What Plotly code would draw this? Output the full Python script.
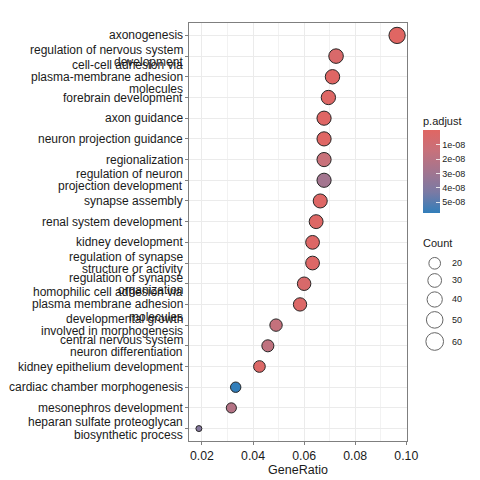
import numpy as np
import plotly.graph_objects as go

terms = [
    "axonogenesis",
    "regulation of nervous system<br>development",
    "cell-cell adhesion via<br>plasma-membrane adhesion<br>molecules",
    "forebrain development",
    "axon guidance",
    "neuron projection guidance",
    "regionalization",
    "regulation of neuron<br>projection development",
    "synapse assembly",
    "renal system development",
    "kidney development",
    "regulation of synapse<br>structure or activity",
    "regulation of synapse<br>organization",
    "homophilic cell adhesion via<br>plasma membrane adhesion<br>molecules",
    "developmental growth<br>involved in morphogenesis",
    "central nervous system<br>neuron differentiation",
    "kidney epithelium development",
    "cardiac chamber morphogenesis",
    "mesonephros development",
    "heparan sulfate proteoglycan<br>biosynthetic process",
]
gene_ratio = [0.0964, 0.0725, 0.0711, 0.0695, 0.0678, 0.0678, 0.0678, 0.0678,
              0.0663, 0.0647, 0.0633, 0.0633, 0.0600, 0.0584, 0.0490, 0.0458,
              0.0425, 0.0332, 0.0315, 0.0188]
counts = [61, 46, 45, 44, 43, 43, 43, 43, 42, 41, 40, 40, 38, 37, 31, 29,
          27, 21, 20, 12]
p_adjust = [7e-11, 4.0e-9, 5e-10, 1.0e-9, 6e-10, 6e-10, 1.4e-8, 2.9e-8,
            1.2e-9, 1.2e-9, 1.8e-9, 2.0e-9, 4.5e-9, 2.5e-9, 1.55e-8, 1.75e-8,
            2.2e-9, 5.76e-8, 2.2e-8, 3.9e-8]
cbar_ticks = [1e-8, 2e-8, 3e-8, 4e-8, 5e-8]
cbar_ticktext = ["1e-08", "2e-08", "3e-08", "4e-08", "5e-08"]
x_ticks = [0.02, 0.04, 0.06, 0.08, 0.10]
x_ticktext = ["0.02", "0.04", "0.06", "0.08", "0.10"]
legend_counts = [20, 30, 40, 50, 60]

FONT = "Liberation Sans, Arial, sans-serif"
TXT = "#1a1a1a"
cmin_c, cmax_c = min(counts), max(counts)


def diam(c, extra=0.0):
    s = 3 + 5 * np.sqrt(max(c - cmin_c, 0) / (cmax_c - cmin_c))
    return 0.8 + 2.06 * s + extra


colorscale = [[0, "#327eba"], [0.25, "#7a7aa4"], [0.5, "#a3758f"],
              [0.75, "#c7717b"], [1, "#e06663"]]

# page body has an 8px margin: work in screen pixels and shift
OFF = 8
W = H = 480 - OFF
PL, PR, PT, PB = 189, 407, 23, 441          # panel edges in screen px
ml, mt = PL - OFF, PT - OFF
mr = 5
mb = H - (PB - OFF)
ph = PB - PT
pw = W - ml - mr


def px_x(sx):
    return (sx - PL) / pw


def px_y(sy):
    return (PB - sy) / ph


fig = go.Figure()
fig.add_trace(go.Scatter(
    x=gene_ratio, y=terms, mode="markers",
    marker=dict(
        size=[diam(c) - 1 for c in counts],
        color=[-p for p in p_adjust],
        colorscale=colorscale,
        cmin=-max(p_adjust), cmax=-min(p_adjust),
        line=dict(color="#262626", width=1),
        opacity=1,
        colorbar=dict(
            x=px_x(423.3), xanchor="left", xpad=0,
            y=px_y(130.3), yanchor="top", ypad=0,
            thickness=17, lenmode="pixels", len=83.4,
            outlinewidth=0,
            tickvals=[-t for t in cbar_ticks], ticktext=cbar_ticktext,
            ticks="inside", ticklen=4, tickcolor="rgba(255,255,255,0.8)",
            tickfont=dict(size=9, family=FONT, color=TXT),
        ),
    ),
    showlegend=False, hoverinfo="skip",
))

# y-axis labels: one annotation per line for ggplot-like tight line spacing
LINE_H = 12.3
for term in terms:
    lines = term.split("<br>")
    n = len(lines)
    for k, ln in enumerate(lines):
        fig.add_annotation(
            x=0, y=term, xref="paper", yref="y", text=ln, showarrow=False,
            xanchor="right", yanchor="middle", xshift=-4.5,
            yshift=((n - 1) / 2 - k) * LINE_H,
            font=dict(size=12, family=FONT, color=TXT))

# size legend
leg_d = [diam(c, 1.5) for c in legend_counts]
leg_y = [263.3]
for i in range(1, len(leg_d)):
    leg_y.append(leg_y[-1] + (leg_d[i - 1] + leg_d[i]) / 2 + 3.5)
fig.add_trace(go.Scatter(
    x=[434.7] * len(legend_counts), y=leg_y, mode="markers",
    marker=dict(size=[d - 1 for d in leg_d], color="white",
                line=dict(color="#262626", width=1)),
    xaxis="x2", yaxis="y2", showlegend=False, hoverinfo="skip",
))
for c, yy in zip(legend_counts, leg_y):
    fig.add_annotation(x=449.5, y=yy, xref="x2", yref="y2", text=str(c),
                       showarrow=False, xanchor="left", yanchor="middle",
                       font=dict(size=9, family=FONT, color=TXT))

fig.add_annotation(x=px_x(423), y=px_y(120.7), xref="paper",
                   yref="paper", text="p.adjust", showarrow=False,
                   xanchor="left", yanchor="middle", xshift=-2,
                   font=dict(size=11, family=FONT, color=TXT))
fig.add_annotation(x=px_x(423), y=px_y(243.3), xref="paper",
                   yref="paper", text="Count", showarrow=False,
                   xanchor="left", yanchor="middle", xshift=-2,
                   font=dict(size=11, family=FONT, color=TXT))

span = max(gene_ratio) - min(gene_ratio)
xr = [min(gene_ratio) - 0.05 * span, max(gene_ratio) + 0.05 * span]

fig.update_layout(
    width=W, height=H,
    margin=dict(l=ml, r=mr, t=mt, b=mb, autoexpand=False),
    paper_bgcolor="white", plot_bgcolor="white",
    font=dict(family=FONT, color="#000000"),
    xaxis=dict(
        domain=[0, px_x(PR)], range=xr, automargin=False,
        tickvals=x_ticks, ticktext=x_ticktext,
        tickfont=dict(size=12.3, family=FONT, color=TXT),
        ticks="outside", ticklen=3, tickcolor="#7f7f7f",
        showgrid=True, gridcolor="#ebebeb", gridwidth=1,
        minor=dict(dtick=0.01, tick0=0, showgrid=True, gridcolor="#f2f2f2",
                   gridwidth=0.6),
        showline=True, linecolor="#7f7f7f", linewidth=1, mirror=True,
        zeroline=False,
        title=dict(text="GeneRatio", font=dict(size=12.5, family=FONT,
                   color=TXT), standoff=2),
    ),
    yaxis=dict(
        domain=[0, 1], automargin=False,
        categoryorder="array", categoryarray=terms[::-1],
        range=[-0.6, len(terms) - 0.4],
        showticklabels=False,
        ticks="outside", ticklen=3, tickcolor="#7f7f7f",
        showgrid=True, gridcolor="#ebebeb", gridwidth=1,
        showline=True, linecolor="#7f7f7f", linewidth=1, mirror=True,
        zeroline=False,
    ),
    xaxis2=dict(domain=[px_x(420), 1.0], range=[420, 420 + (1.0 - px_x(420)) * pw],
                visible=False, fixedrange=True),
    yaxis2=dict(domain=[px_y(352), px_y(252)],
                range=[352, 252], visible=False, fixedrange=True),
)

fig.write_html("out.html")
